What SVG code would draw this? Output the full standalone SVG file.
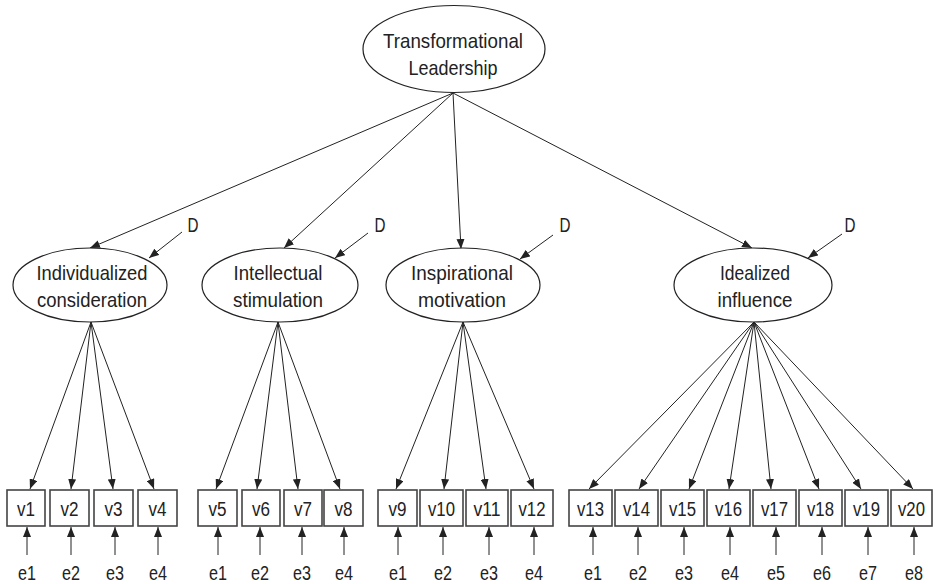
<svg xmlns="http://www.w3.org/2000/svg" width="935" height="584" viewBox="0 0 935 584">
<defs>
<marker id="ah" markerUnits="userSpaceOnUse" markerWidth="10" markerHeight="8" viewBox="0 0 10 8" refX="10" refY="4" orient="auto">
<path d="M0,0 L10,4 L0,8 z" fill="#222"/>
</marker>
</defs>
<style>
.bg{fill:#fff}
.ell{fill:#fff;stroke:#222;stroke-width:1.2}
.box{fill:#fff;stroke:#444;stroke-width:1.6}
.lbl{font-family:"Liberation Sans",Arial,sans-serif;font-size:21px;fill:#222;text-anchor:middle}
.sm{font-family:"Liberation Sans",Arial,sans-serif;font-size:20px;fill:#222;text-anchor:middle}
.con line{stroke:#222;stroke-width:1;marker-end:url(#ah)}
</style>
<rect class="bg" x="0" y="0" width="935" height="584"/>

<g id="connectors" class="con">
<line x1="453" y1="93" x2="90" y2="248"/>
<line x1="453" y1="93" x2="284" y2="248"/>
<line x1="453" y1="93" x2="461" y2="249"/>
<line x1="453" y1="93" x2="752" y2="248"/>
<line x1="182" y1="232" x2="149" y2="258"/>
<line x1="368" y1="233" x2="335" y2="258"/>
<line x1="553" y1="235" x2="520" y2="259"/>
<line x1="842" y1="234" x2="808" y2="258"/>
<line x1="91" y1="322" x2="30" y2="489"/>
<line x1="91" y1="322" x2="71" y2="489"/>
<line x1="91" y1="322" x2="113" y2="489"/>
<line x1="91" y1="322" x2="154" y2="489"/>
<line x1="278" y1="322" x2="216" y2="489"/>
<line x1="278" y1="322" x2="257" y2="489"/>
<line x1="278" y1="322" x2="298" y2="489"/>
<line x1="278" y1="322" x2="340" y2="489"/>
<line x1="463" y1="322" x2="396" y2="489"/>
<line x1="463" y1="322" x2="444" y2="489"/>
<line x1="463" y1="322" x2="486" y2="489"/>
<line x1="463" y1="322" x2="534" y2="489"/>
<line x1="754" y1="322" x2="589" y2="489"/>
<line x1="754" y1="322" x2="639" y2="489"/>
<line x1="754" y1="322" x2="689" y2="489"/>
<line x1="754" y1="322" x2="729" y2="489"/>
<line x1="754" y1="322" x2="771" y2="489"/>
<line x1="754" y1="322" x2="819" y2="489"/>
<line x1="754" y1="322" x2="861" y2="489"/>
<line x1="754" y1="322" x2="913" y2="489"/>
<line x1="27" y1="555" x2="27" y2="527"/>
<line x1="71" y1="555" x2="71" y2="527"/>
<line x1="115" y1="555" x2="115" y2="527"/>
<line x1="158" y1="555" x2="158" y2="527"/>
<line x1="218" y1="555" x2="218" y2="527"/>
<line x1="260" y1="555" x2="260" y2="527"/>
<line x1="302" y1="555" x2="302" y2="527"/>
<line x1="344" y1="555" x2="344" y2="527"/>
<line x1="398" y1="555" x2="398" y2="527"/>
<line x1="443" y1="555" x2="443" y2="527"/>
<line x1="489" y1="555" x2="489" y2="527"/>
<line x1="534" y1="555" x2="534" y2="527"/>
<line x1="593" y1="555" x2="593" y2="527"/>
<line x1="638" y1="555" x2="638" y2="527"/>
<line x1="684" y1="555" x2="684" y2="527"/>
<line x1="730" y1="555" x2="730" y2="527"/>
<line x1="776" y1="555" x2="776" y2="527"/>
<line x1="822" y1="555" x2="822" y2="527"/>
<line x1="868" y1="555" x2="868" y2="527"/>
<line x1="914" y1="555" x2="914" y2="527"/>
</g>

<g id="transformational-leadership">
<ellipse class="ell" cx="454" cy="49" rx="91" ry="43.5"/>
<text class="lbl" x="453" y="48" textLength="140" lengthAdjust="spacingAndGlyphs">Transformational</text>
<text class="lbl" x="453" y="75" textLength="89" lengthAdjust="spacingAndGlyphs">Leadership</text>
</g>
<g id="individualized-consideration">
<ellipse class="ell" cx="90" cy="285" rx="77" ry="37"/>
<text class="lbl" x="92" y="280" textLength="111" lengthAdjust="spacingAndGlyphs">Individualized</text>
<text class="lbl" x="92" y="307" textLength="110" lengthAdjust="spacingAndGlyphs">consideration</text>
</g>
<g id="intellectual-stimulation">
<ellipse class="ell" cx="280" cy="285" rx="78" ry="37"/>
<text class="lbl" x="278" y="280" textLength="89" lengthAdjust="spacingAndGlyphs">Intellectual</text>
<text class="lbl" x="278" y="307" textLength="90" lengthAdjust="spacingAndGlyphs">stimulation</text>
</g>
<g id="inspirational-motivation">
<ellipse class="ell" cx="463" cy="285" rx="77" ry="37"/>
<text class="lbl" x="462" y="280" textLength="102" lengthAdjust="spacingAndGlyphs">Inspirational</text>
<text class="lbl" x="462" y="307" textLength="88" lengthAdjust="spacingAndGlyphs">motivation</text>
</g>
<g id="idealized-influence">
<ellipse class="ell" cx="753" cy="285" rx="79" ry="37"/>
<text class="lbl" x="755" y="280" textLength="70" lengthAdjust="spacingAndGlyphs">Idealized</text>
<text class="lbl" x="755" y="307" textLength="75" lengthAdjust="spacingAndGlyphs">influence</text>
</g>

<g id="D1"><text class="sm" x="193" y="232" textLength="11" lengthAdjust="spacingAndGlyphs">D</text></g>
<g id="D2"><text class="sm" x="380" y="232" textLength="11" lengthAdjust="spacingAndGlyphs">D</text></g>
<g id="D3"><text class="sm" x="565" y="232" textLength="11" lengthAdjust="spacingAndGlyphs">D</text></g>
<g id="D4"><text class="sm" x="850" y="232" textLength="11" lengthAdjust="spacingAndGlyphs">D</text></g>

<g id="v1"><rect class="box" x="7" y="490" width="38" height="36"/><text class="sm" x="26" y="516" textLength="18" lengthAdjust="spacingAndGlyphs">v1</text></g>
<g id="v2"><rect class="box" x="50" y="490" width="39" height="36"/><text class="sm" x="69.5" y="516" textLength="18" lengthAdjust="spacingAndGlyphs">v2</text></g>
<g id="v3"><rect class="box" x="94" y="490" width="39" height="36"/><text class="sm" x="113.5" y="516" textLength="18" lengthAdjust="spacingAndGlyphs">v3</text></g>
<g id="v4"><rect class="box" x="138" y="490" width="39" height="36"/><text class="sm" x="157.5" y="516" textLength="18" lengthAdjust="spacingAndGlyphs">v4</text></g>
<g id="v5"><rect class="box" x="198" y="490" width="39" height="36"/><text class="sm" x="217.5" y="516" textLength="18" lengthAdjust="spacingAndGlyphs">v5</text></g>
<g id="v6"><rect class="box" x="242" y="490" width="38" height="36"/><text class="sm" x="261" y="516" textLength="18" lengthAdjust="spacingAndGlyphs">v6</text></g>
<g id="v7"><rect class="box" x="284" y="490" width="38" height="36"/><text class="sm" x="303" y="516" textLength="18" lengthAdjust="spacingAndGlyphs">v7</text></g>
<g id="v8"><rect class="box" x="324" y="490" width="39" height="36"/><text class="sm" x="343.5" y="516" textLength="18" lengthAdjust="spacingAndGlyphs">v8</text></g>
<g id="v9"><rect class="box" x="378" y="490" width="39" height="36"/><text class="sm" x="397.5" y="516" textLength="18" lengthAdjust="spacingAndGlyphs">v9</text></g>
<g id="v10"><rect class="box" x="420" y="490" width="43" height="36"/><text class="sm" x="441.5" y="516" textLength="27" lengthAdjust="spacingAndGlyphs">v10</text></g>
<g id="v11"><rect class="box" x="466" y="490" width="42" height="36"/><text class="sm" x="487" y="516" textLength="27" lengthAdjust="spacingAndGlyphs">v11</text></g>
<g id="v12"><rect class="box" x="511" y="490" width="42" height="36"/><text class="sm" x="532" y="516" textLength="27" lengthAdjust="spacingAndGlyphs">v12</text></g>
<g id="v13"><rect class="box" x="569" y="490" width="43" height="36"/><text class="sm" x="590.5" y="516" textLength="27" lengthAdjust="spacingAndGlyphs">v13</text></g>
<g id="v14"><rect class="box" x="615" y="490" width="43" height="36"/><text class="sm" x="636.5" y="516" textLength="27" lengthAdjust="spacingAndGlyphs">v14</text></g>
<g id="v15"><rect class="box" x="661" y="490" width="43" height="36"/><text class="sm" x="682.5" y="516" textLength="27" lengthAdjust="spacingAndGlyphs">v15</text></g>
<g id="v16"><rect class="box" x="707" y="490" width="43" height="36"/><text class="sm" x="728.5" y="516" textLength="27" lengthAdjust="spacingAndGlyphs">v16</text></g>
<g id="v17"><rect class="box" x="753" y="490" width="43" height="36"/><text class="sm" x="774.5" y="516" textLength="27" lengthAdjust="spacingAndGlyphs">v17</text></g>
<g id="v18"><rect class="box" x="799" y="490" width="43" height="36"/><text class="sm" x="820.5" y="516" textLength="27" lengthAdjust="spacingAndGlyphs">v18</text></g>
<g id="v19"><rect class="box" x="845" y="490" width="43" height="36"/><text class="sm" x="866.5" y="516" textLength="27" lengthAdjust="spacingAndGlyphs">v19</text></g>
<g id="v20"><rect class="box" x="891" y="490" width="41" height="36"/><text class="sm" x="911.5" y="516" textLength="27" lengthAdjust="spacingAndGlyphs">v20</text></g>

<g id="errors">
<text class="sm" x="27" y="580" textLength="18" lengthAdjust="spacingAndGlyphs">e1</text>
<text class="sm" x="71" y="580" textLength="18" lengthAdjust="spacingAndGlyphs">e2</text>
<text class="sm" x="115" y="580" textLength="18" lengthAdjust="spacingAndGlyphs">e3</text>
<text class="sm" x="158" y="580" textLength="18" lengthAdjust="spacingAndGlyphs">e4</text>
<text class="sm" x="218" y="580" textLength="18" lengthAdjust="spacingAndGlyphs">e1</text>
<text class="sm" x="260" y="580" textLength="18" lengthAdjust="spacingAndGlyphs">e2</text>
<text class="sm" x="302" y="580" textLength="18" lengthAdjust="spacingAndGlyphs">e3</text>
<text class="sm" x="344" y="580" textLength="18" lengthAdjust="spacingAndGlyphs">e4</text>
<text class="sm" x="398" y="580" textLength="18" lengthAdjust="spacingAndGlyphs">e1</text>
<text class="sm" x="443" y="580" textLength="18" lengthAdjust="spacingAndGlyphs">e2</text>
<text class="sm" x="489" y="580" textLength="18" lengthAdjust="spacingAndGlyphs">e3</text>
<text class="sm" x="534" y="580" textLength="18" lengthAdjust="spacingAndGlyphs">e4</text>
<text class="sm" x="593" y="580" textLength="18" lengthAdjust="spacingAndGlyphs">e1</text>
<text class="sm" x="638" y="580" textLength="18" lengthAdjust="spacingAndGlyphs">e2</text>
<text class="sm" x="684" y="580" textLength="18" lengthAdjust="spacingAndGlyphs">e3</text>
<text class="sm" x="730" y="580" textLength="18" lengthAdjust="spacingAndGlyphs">e4</text>
<text class="sm" x="776" y="580" textLength="18" lengthAdjust="spacingAndGlyphs">e5</text>
<text class="sm" x="822" y="580" textLength="18" lengthAdjust="spacingAndGlyphs">e6</text>
<text class="sm" x="868" y="580" textLength="18" lengthAdjust="spacingAndGlyphs">e7</text>
<text class="sm" x="914" y="580" textLength="18" lengthAdjust="spacingAndGlyphs">e8</text>
</g>
</svg>
